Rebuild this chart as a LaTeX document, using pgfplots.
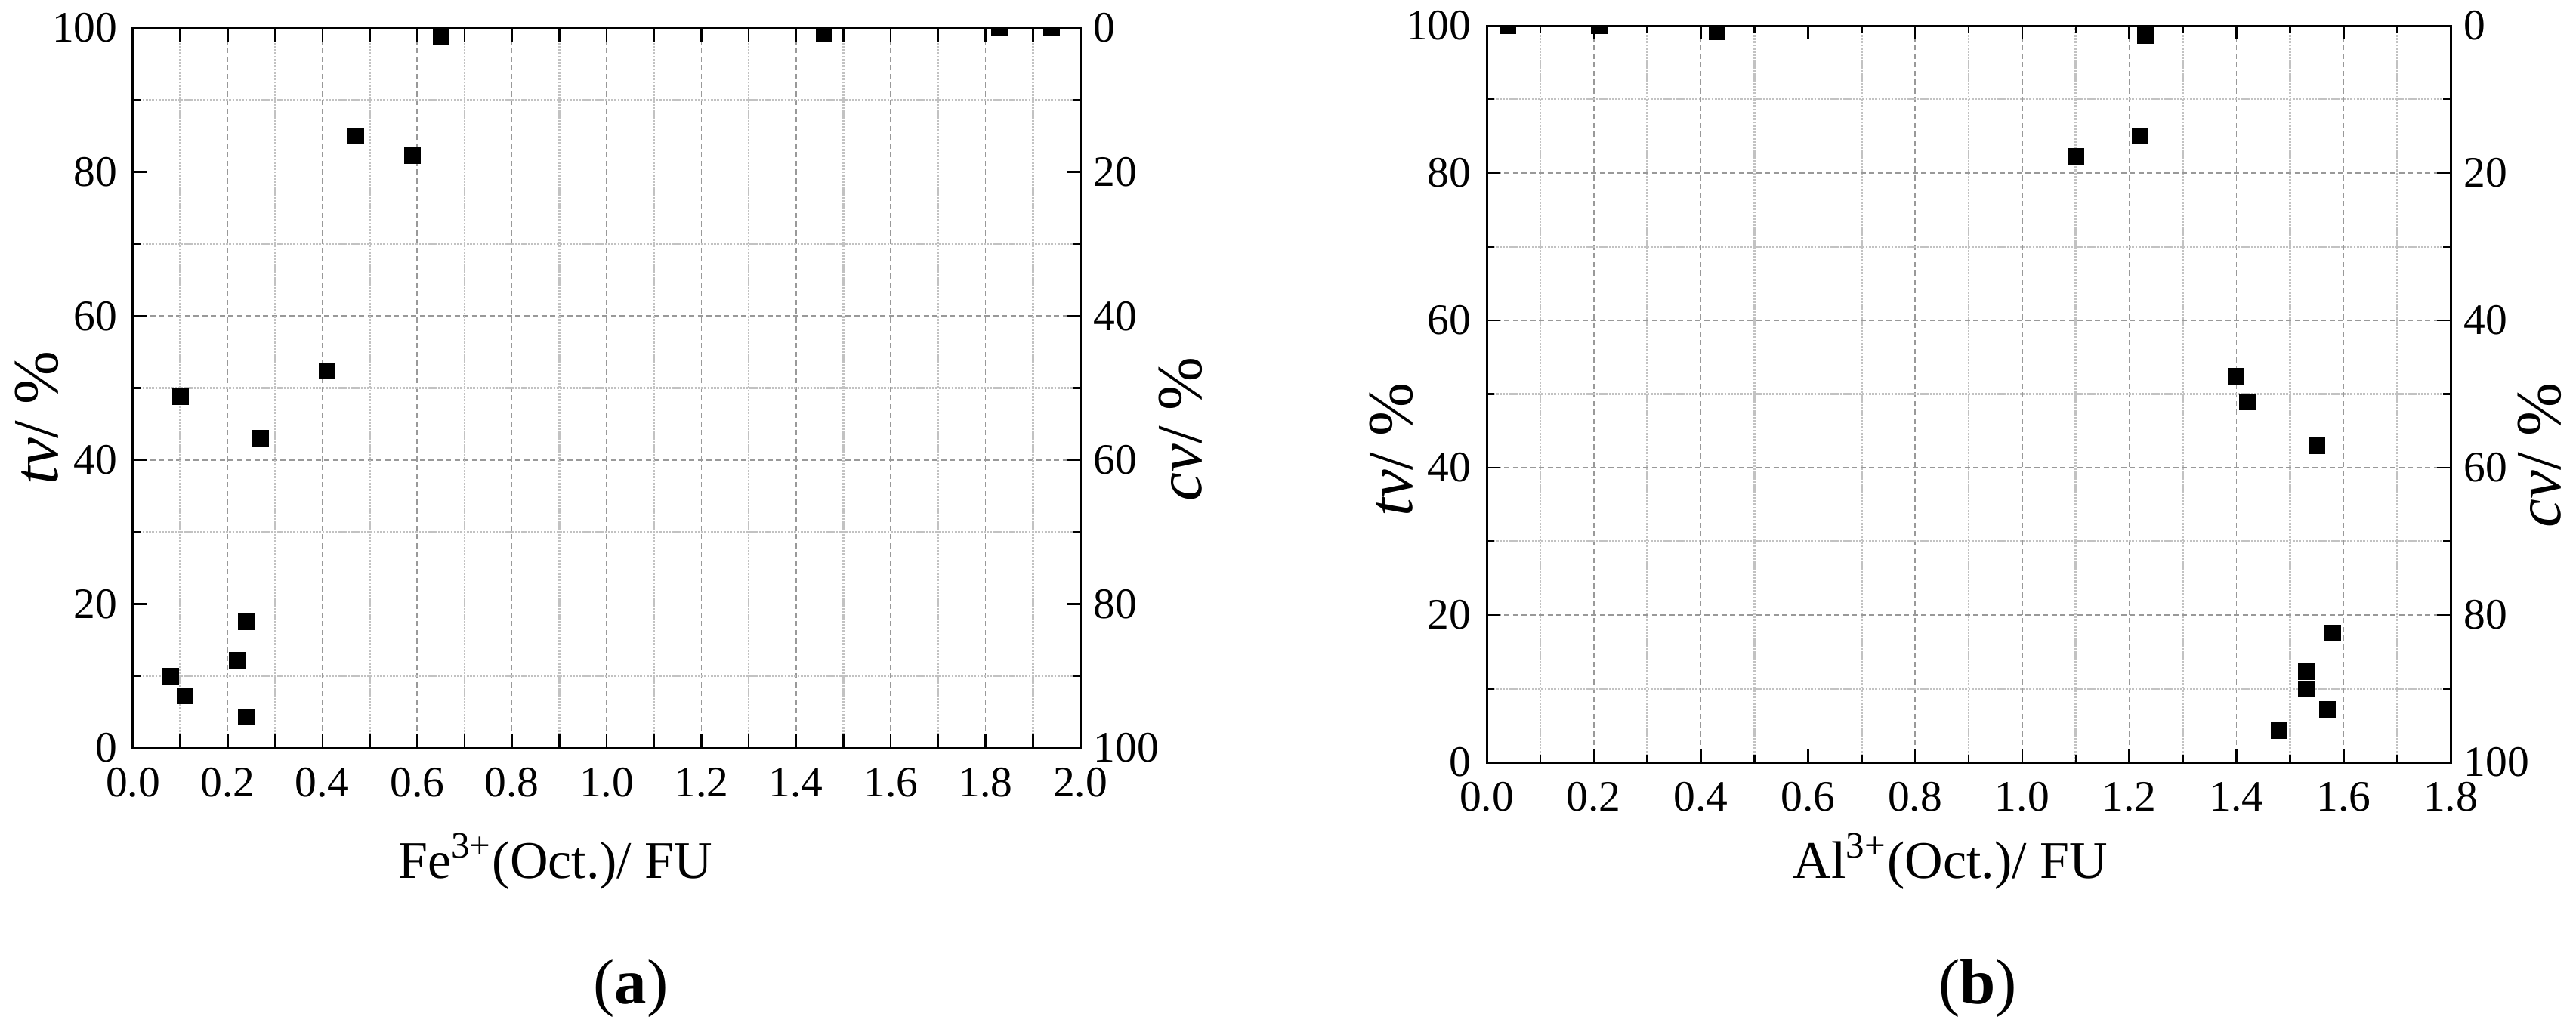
\documentclass[border=0pt]{standalone}
\usepackage{fontspec}
\setmainfont{Liberation Serif}
\usepackage{pgfplots}
\pgfplotsset{compat=1.18}
\definecolor{majgrid}{gray}{0.6}
\definecolor{mingrid}{gray}{0.76}

\pgfplotstableread{
x y
0.08 10.0
0.10 48.8
0.11 7.2
0.22 12.2
0.24 17.5
0.24 4.3
0.27 43.0
0.41 52.4
0.47 85.0
0.59 82.3
0.65 98.7
1.46 99.2
1.83 100
1.94 100
}\dataA

\pgfplotstableread{
x y
0.04 100
0.21 100
0.43 99.2
1.10 82.3
1.22 85.0
1.23 98.7
1.40 52.4
1.42 48.9
1.55 43.0
1.58 17.5
1.53 12.3
1.53 10.0
1.57 7.2
1.48 4.3
}\dataB

\pgfplotsset{
  base/.style={
    scale only axis, anchor=south west,
    xmin=0, ymin=0, ymax=100,
    axis line style={line width=0.6pt, black},
    tick style={line width=0.5pt, black},
    major tick length=3.6pt, minor tick length=2pt,
    tick align=inside,
    ytick={0,20,40,60,80,100}, minor y tick num=1,
    grid=both,
    major grid style={line width=0.3pt, majgrid, dash pattern=on 1.4pt off 0.9pt},
    minor grid style={line width=0.55pt, mingrid, dash pattern=on 0.55pt off 0.3pt},
    tick label style={font=\fontsize{11.5}{12}\selectfont},
    /pgf/number format/assume math mode=true,
    xticklabel style={yshift=-1.8pt, /pgf/number format/.cd, fixed, fixed zerofill, precision=1},
    yticklabel style={xshift=-0.6pt},
    xlabel style={font=\fontsize{14}{16}\selectfont, anchor=base},
    ylabel style={font=\fontsize{17}{20}\selectfont, anchor=base, inner sep=0pt},
    clip marker paths=true,
  },
  sec/.style={
    scale only axis, anchor=south west,
    xmin=0, ymin=0, ymax=100, y dir=reverse,
    axis y line*=right, axis x line=none,
    axis line style={line width=0.6pt, black},
    ytick={0,20,40,60,80,100}, major tick length=0pt,
    tick label style={font=\fontsize{11.5}{12}\selectfont},
    /pgf/number format/assume math mode=true,
    ylabel style={font=\fontsize{17}{20}\selectfont, anchor=base, inner sep=0pt},
  },
  pts/.style={only marks, mark=square*, mark size=2pt, black, mark options={solid, fill=black}},
}

\begin{document}
\begin{tikzpicture}
\useasboundingbox (0,0) rectangle (682pt,271.4pt);

% ---- (a) ----
\begin{axis}[base,
  at={(35.2pt,73.4pt)}, width=250.8pt, height=190.6pt,
  xmax=2,
  xtick={0,0.2,0.4,0.6,0.8,1.0,1.2,1.4,1.6,1.8,2.0},
  extra x ticks={0.1,0.3,0.5,0.7,0.9,1.1,1.3,1.5,1.7,1.9},
  extra x tick labels={},
  extra x tick style={major grid style={line width=0.55pt, mingrid, dash pattern=on 0.55pt off 0.3pt}},
  xlabel={Fe\textsuperscript{3+}(Oct.)/ FU},
  xlabel style={at={(axis description cs:0.446,-0.1805)}},
  ylabel={\textit{tv}/ \%},
  ylabel style={at={(axis description cs:-0.079,0.4586)}},
]
\addplot[pts] table[x=x,y=y] {\dataA};
\end{axis}
\begin{axis}[sec,
  at={(35.2pt,73.4pt)}, width=250.8pt, height=190.6pt,
  xmax=2,
  ylabel={\textit{cv}/ \%},
  ylabel style={at={(axis description cs:1.1276,0.443)}},
]
\end{axis}

% ---- (b) ----
\begin{axis}[base,
  at={(393.6pt,69.6pt)}, width=255.2pt, height=195pt,
  xmax=1.8,
  xtick={0,0.2,0.4,0.6,0.8,1.0,1.2,1.4,1.6,1.8},
  minor x tick num=1,
  xlabel={Al\textsuperscript{3+}(Oct.)/ FU},
  xlabel style={at={(axis description cs:0.481,-0.157)}},
  ylabel={\textit{tv}/ \%},
  ylabel style={at={(axis description cs:-0.0776,0.4246)}},
]
\addplot[pts] table[x=x,y=y] {\dataB};
\end{axis}
\begin{axis}[sec,
  at={(393.6pt,69.6pt)}, width=255.2pt, height=195pt,
  xmax=1.8,
  ylabel={\textit{cv}/ \%},
  ylabel style={at={(axis description cs:1.114,0.417)}},
]
\end{axis}

\node[font=\fontsize{17}{20}\selectfont, anchor=base] at (167pt,5.8pt) {(\textbf{a})};
\node[font=\fontsize{17}{20}\selectfont, anchor=base] at (523.6pt,5.8pt) {(\textbf{b})};
\end{tikzpicture}
\end{document}
